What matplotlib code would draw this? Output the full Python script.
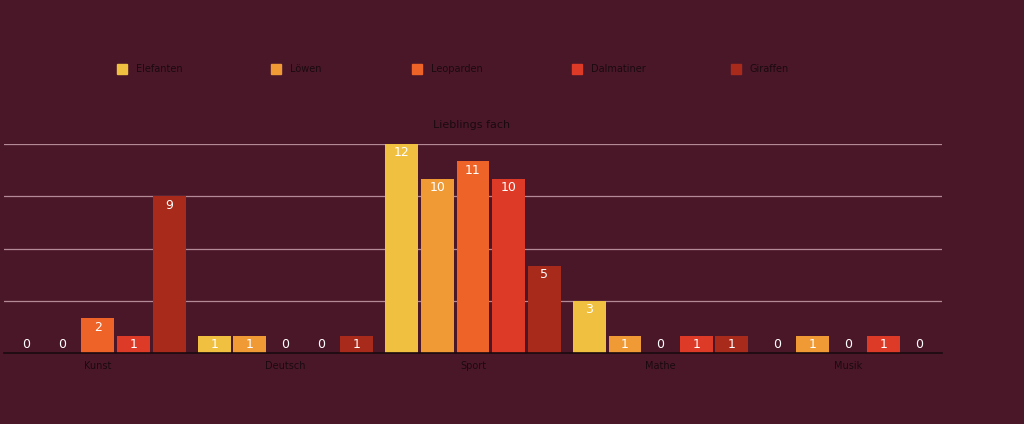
import matplotlib
matplotlib.use("Agg")
import matplotlib.pyplot as plt
from matplotlib.patches import Rectangle
import numpy as np

categories = ["Kunst", "Deutsch", "Sport", "Mathe", "Musik"]
series_names = ["Elefanten", "Löwen", "Leoparden", "Dalmatiner", "Giraffen"]
elefanten = [0, 1, 12, 3, 0]
loewen = [0, 1, 10, 1, 1]
leoparden = [2, 0, 11, 0, 0]
dalmatiner = [1, 0, 10, 1, 1]
giraffen = [9, 1, 5, 1, 0]
series_values = [elefanten, loewen, leoparden, dalmatiner, giraffen]
colors = ["#f0c040", "#f09a35", "#ee6328", "#dd3a28", "#a82a1a"]
title = "Lieblings fach"

bg = "#4a1729"
W, H = 1024, 424
fig = plt.figure(figsize=(W / 100, H / 100), dpi=100, facecolor=bg)
ax = fig.add_axes([4 / W, 71 / H, 938 / W, 209 / H])
ax.set_facecolor(bg)

x = np.arange(len(categories))
step = 0.19
width = 0.175
for i, (vals, c) in enumerate(zip(series_values, colors)):
    pos = x + (i - 2) * step
    ax.bar(pos, vals, width=width, color=c, zorder=3)
    for px, v in zip(pos, vals):
        ax.annotate(str(v), (px, max(v, 1)), xytext=(0, -9), textcoords="offset pixels",
                    ha="center", va="center", color="white", fontsize=9, zorder=4)

ax.set_xlim(-0.5, 4.5)
ax.set_ylim(0, 12)
ax.set_yticks([3, 6, 9, 12])
ax.yaxis.grid(True, color="#b48a96", linewidth=0.9, zorder=1)
ax.tick_params(axis="y", length=0, labelleft=False)
ax.set_xticks(x)
ax.set_xticklabels(categories, fontsize=7, color="#1a0a10")
ax.tick_params(axis="x", length=0, pad=6)
for s in ["top", "right", "left"]:
    ax.spines[s].set_visible(False)
ax.spines["bottom"].set_color("#1a0a10")
ax.spines["bottom"].set_linewidth(1.2)
ax.spines["bottom"].set_zorder(5)

fig.text(472 / W, 1 - 125 / H, title, ha="center", va="center", fontsize=8, color="#1a0a10")

leg_x = [122, 276, 417, 577, 736]
for lx, name, c in zip(leg_x, series_names, colors):
    fig.add_artist(Rectangle(((lx - 5) / W, 1 - 74 / H), 10 / W, 10 / H,
                             transform=fig.transFigure, color=c))
    fig.text((lx + 14) / W, 1 - 69 / H, name, ha="left", va="center", fontsize=7, color="#1a0a10")

fig.savefig("out.png", dpi=100, facecolor=bg)
